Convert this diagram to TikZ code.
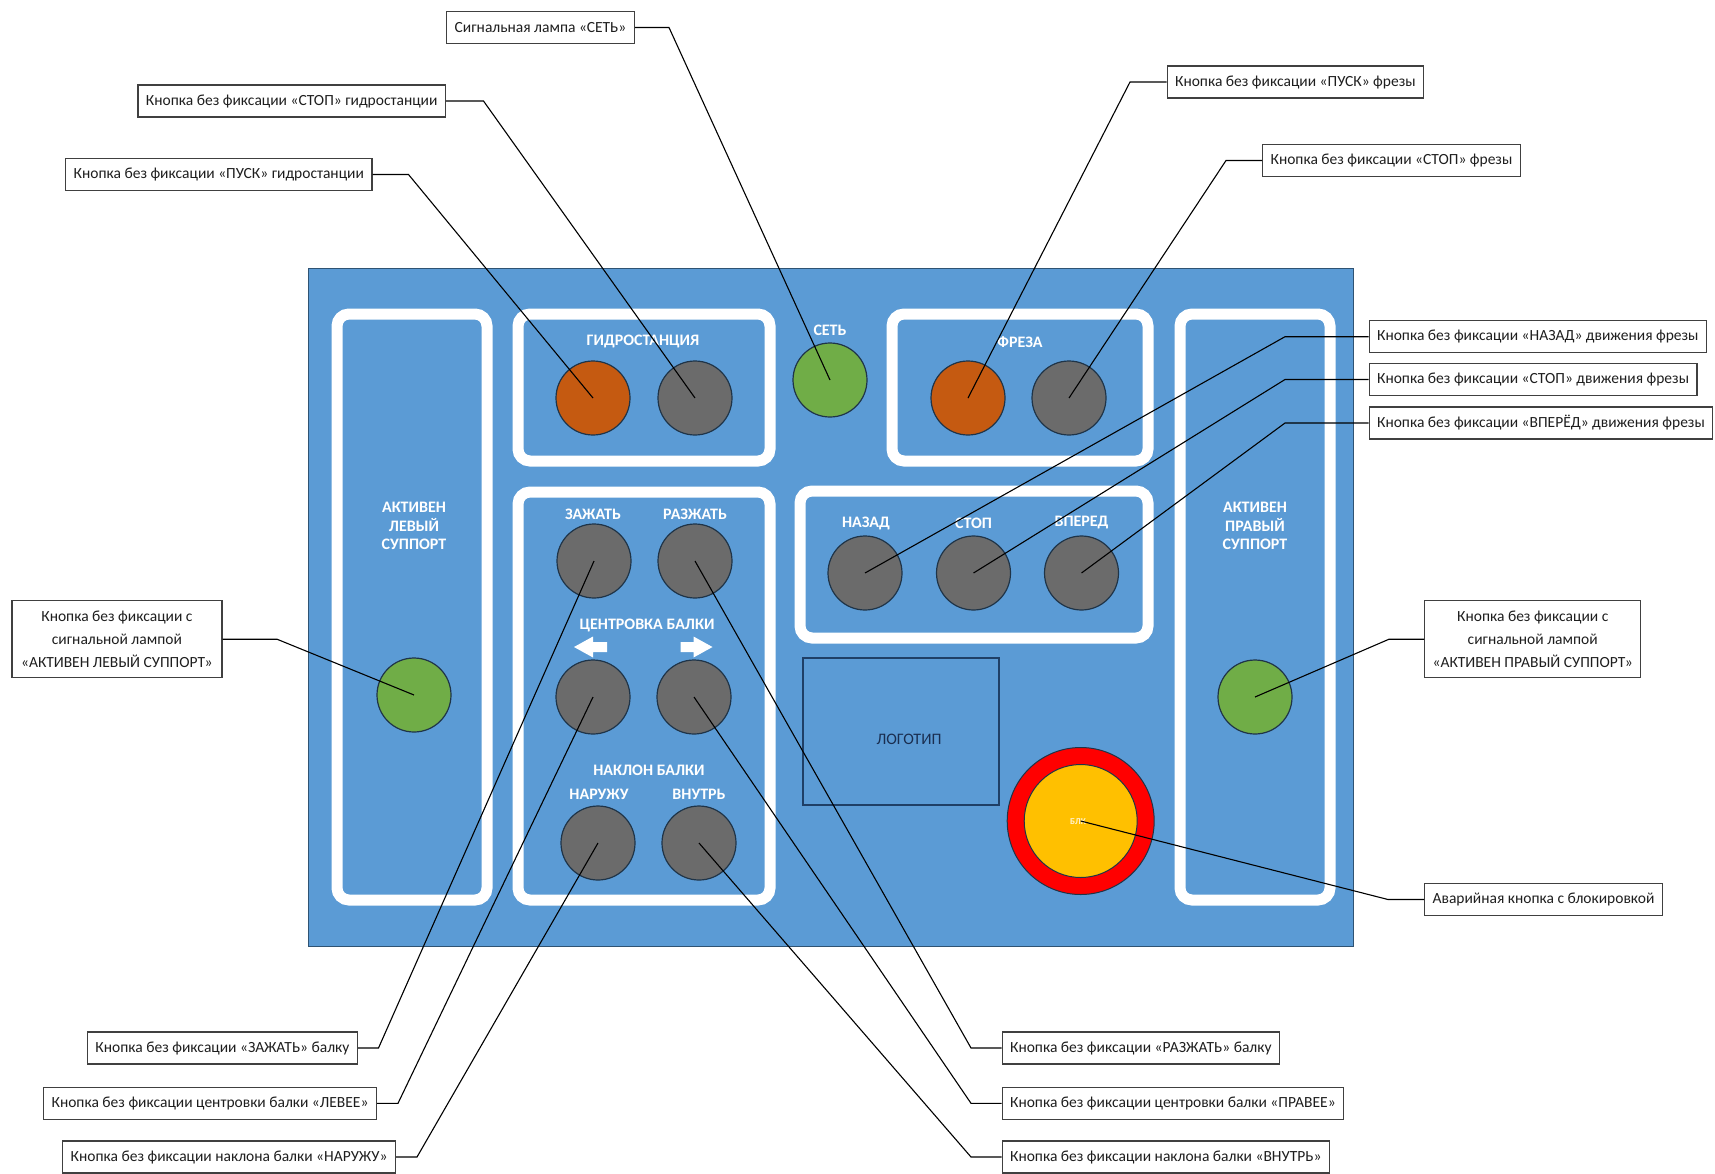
\documentclass[tikz,border=0pt]{standalone}
\usepackage{fontspec}
\setmainfont{Carlito}
\definecolor{panelblue}{HTML}{5B9BD5}
\definecolor{paneledge}{HTML}{2F5373}
\definecolor{btnorange}{HTML}{C55A11}
\definecolor{btngrey}{HTML}{6B6B6B}
\definecolor{btngreen}{HTML}{70AD47}
\definecolor{btnedge}{HTML}{1F3448}
\definecolor{stopred}{HTML}{FF0000}
\definecolor{stopyellow}{HTML}{FFC000}
\definecolor{logoedge}{HTML}{1F3F66}
\definecolor{logotext}{HTML}{1A2E50}
\definecolor{boxedge}{HTML}{404040}
\definecolor{boxtext}{HTML}{1E1E1E}
\tikzset{
  frame/.style={draw=white, line width=11pt, rounded corners=12pt},
  btn/.style={circle, minimum size=74pt, inner sep=0pt, draw=btnedge, line width=1.2pt},
  greybtn/.style={btn, fill=btngrey},
  orangebtn/.style={btn, fill=btnorange},
  greenbtn/.style={btn, fill=btngreen},
  paneltext/.style={text=white, font=\fontsize{16}{18.5}\selectfont\bfseries, inner sep=0pt, align=center},
  callout/.style={draw=boxedge, line width=1.2pt, fill=white, text=boxtext,
    font=\fontsize{15.5}{18}\selectfont, inner xsep=8pt, inner ysep=0pt, minimum height=32pt},
  callout3/.style={callout, align=center, font=\fontsize{15.5}{23}\selectfont, minimum height=77pt, minimum width=210pt},
  leader/.style={draw=black, line width=1.1pt},
  arrowshape/.style={fill=white, draw=none}
}
\begin{document}
\begin{tikzpicture}[x=1pt,y=-1pt]
\useasboundingbox (0,0) rectangle (1715,1173);
\fill[white] (0,0) rectangle (1715,1173);

% control panel plate
\filldraw[fill=panelblue, draw=paneledge, line width=1pt] (308,268) rectangle (1353,946);

% white group frames
\draw[frame] (337,314) rectangle (487,900);
\draw[frame] (518,314) rectangle (770,461);
\draw[frame] (892,314) rectangle (1148,461);
\draw[frame] (518,492) rectangle (770,900);
\draw[frame] (800,491) rectangle (1148,638);
\draw[frame] (1180,314) rectangle (1330,900);

% group captions
\node[paneltext] at (414,526) {АКТИВЕН\\ЛЕВЫЙ\\СУППОРТ};
\node[paneltext] at (1255,526) {АКТИВЕН\\ПРАВЫЙ\\СУППОРТ};
\node[paneltext] at (643,341) {ГИДРОСТАНЦИЯ};
\node[paneltext] at (830,330) {СЕТЬ};
\node[paneltext] at (1020,342) {ФРЕЗА};
\node[paneltext] at (593,514) {ЗАЖАТЬ};
\node[paneltext] at (695,514) {РАЗЖАТЬ};
\node[paneltext] at (647,625) {ЦЕНТРОВКА БАЛКИ};
\node[paneltext] at (649,770) {НАКЛОН БАЛКИ};
\node[paneltext] at (599,794) {НАРУЖУ};
\node[paneltext] at (699,794) {ВНУТРЬ};
\node[paneltext] at (866,523) {НАЗАД};
\node[paneltext] at (973.5,523) {СТОП};
\node[paneltext] at (1081.5,523) {ВПЕРЕД};

% centring arrows
\path[arrowshape] (574,647) -- (593,636.5) -- (593,642) -- (607,642) -- (607,652)
  -- (593,652) -- (593,657.5) -- cycle;
\path[arrowshape] (712.5,647) -- (693.5,636.5) -- (693.5,642) -- (680.5,642) -- (680.5,652)
  -- (693.5,652) -- (693.5,657.5) -- cycle;

% logo field
\draw[logoedge, line width=1.2pt] (803,658) rectangle (999,805);
\node[text=logotext, font=\fontsize{16}{18}\selectfont, inner sep=0pt] (logo) at (909,739) {ЛОГОТИП};

% buttons and lamps
\node[greenbtn] (lgreen) at (414,695) {};
\node[greenbtn] (rgreen) at (1255,697) {};
\node[greenbtn] (setb) at (830,380) {};
\node[orangebtn] (gpusk) at (593,398) {};
\node[greybtn] (gstop) at (695,398) {};
\node[orangebtn] (fpusk) at (968,398) {};
\node[greybtn] (fstop) at (1069,398) {};
\node[greybtn] (mnazad) at (865,573) {};
\node[greybtn] (mstop) at (973.5,573) {};
\node[greybtn] (mvpered) at (1081.5,573) {};
\node[greybtn] (zaz) at (594,561) {};
\node[greybtn] (raz) at (695,561) {};
\node[greybtn] (lev) at (593,697) {};
\node[greybtn] (prav) at (694,697) {};
\node[greybtn] (nar) at (598,843) {};
\node[greybtn] (vnutr) at (699,843) {};

% emergency stop
\node[circle, fill=stopred, draw=btnedge, line width=1pt, minimum size=147pt, inner sep=0pt] (emring) at (1080.7,821) {};
\node[circle, fill=stopyellow, draw=btnedge, line width=1pt, minimum size=113pt, inner sep=0pt] (emerg) at (1080.7,821) {};
\node[text=white, text opacity=0.8, font=\fontsize{9}{10}\selectfont\bfseries, inner sep=0pt] (emtext) at (1078,821.5) {БЛК};

% callouts
\node[callout, anchor=east] (l1) at (635,27.5) {Сигнальная лампа «СЕТЬ»};
\node[callout, anchor=east] (l2) at (446,101) {Кнопка без фиксации «СТОП» гидростанции};
\node[callout, anchor=east] (l3) at (372.5,174.5) {Кнопка без фиксации «ПУСК» гидростанции};
\node[callout, anchor=west] (l4) at (1166.5,82) {Кнопка без фиксации «ПУСК» фрезы};
\node[callout, anchor=west] (l5) at (1262,160.5) {Кнопка без фиксации «СТОП» фрезы};
\node[callout, anchor=west] (l6) at (1368.5,336.7) {Кнопка без фиксации «НАЗАД» движения фрезы};
\node[callout, anchor=west] (l7) at (1368.5,379.5) {Кнопка без фиксации «СТОП» движения фрезы};
\node[callout, anchor=west] (l8) at (1368.5,423) {Кнопка без фиксации «ВПЕРЁД» движения фрезы};
\node[callout3, anchor=east] (l9) at (222.5,639.2) {Кнопка без фиксации с\\сигнальной лампой\\«АКТИВЕН ЛЕВЫЙ СУППОРТ»};
\node[callout3, anchor=west] (l10) at (1424,639.2) {Кнопка без фиксации с\\сигнальной лампой\\«АКТИВЕН ПРАВЫЙ СУППОРТ»};
\node[callout, anchor=west] (l11) at (1424,899.5) {Аварийная кнопка с блокировкой};
\node[callout, anchor=east] (l12) at (358,1048) {Кнопка без фиксации «ЗАЖАТЬ» балку};
\node[callout, anchor=east] (l13) at (377,1103.3) {Кнопка без фиксации центровки балки «ЛЕВЕЕ»};
\node[callout, anchor=east] (l14) at (396,1157) {Кнопка без фиксации наклона балки «НАРУЖУ»};
\node[callout, anchor=west] (l15) at (1001.5,1048) {Кнопка без фиксации «РАЗЖАТЬ» балку};
\node[callout, anchor=west] (l16) at (1001.5,1103.3) {Кнопка без фиксации центровки балки «ПРАВЕЕ»};
\node[callout, anchor=west] (l17) at (1001.5,1157) {Кнопка без фиксации наклона балки «ВНУТРЬ»};

% leader lines
\draw[leader] (l1.east) -- ++(34,0) -- (setb.center);
\draw[leader] (l2.east) -- ++(37.5,0) -- (gstop.center);
\draw[leader] (l3.east) -- ++(36,0) -- (gpusk.center);
\draw[leader] (l4.west) -- ++(-36.5,0) -- (fpusk.center);
\draw[leader] (l5.west) -- ++(-36,0) -- (fstop.center);
\draw[leader] (l6.west) -- ++(-83.5,0) -- (mnazad.center);
\draw[leader] (l7.west) -- ++(-83.5,0) -- (mstop.center);
\draw[leader] (l8.west) -- ++(-83.5,0) -- (mvpered.center);
\draw[leader] (l9.east) -- ++(54.5,0) -- (lgreen.center);
\draw[leader] (l10.west) -- ++(-35,0) -- (rgreen.center);
\draw[leader] (l11.west) -- ++(-36,0) -- (emerg.center);
\draw[leader] (l12.east) -- ++(20.5,0) -- (zaz.center);
\draw[leader] (l13.east) -- ++(21,0) -- (lev.center);
\draw[leader] (l14.east) -- ++(21,0) -- (nar.center);
\draw[leader] (l15.west) -- ++(-30.5,0) -- (raz.center);
\draw[leader] (l16.west) -- ++(-30.5,0) -- (prav.center);
\draw[leader] (l17.west) -- ++(-30.5,0) -- (vnutr.center);
\end{tikzpicture}
\end{document}
